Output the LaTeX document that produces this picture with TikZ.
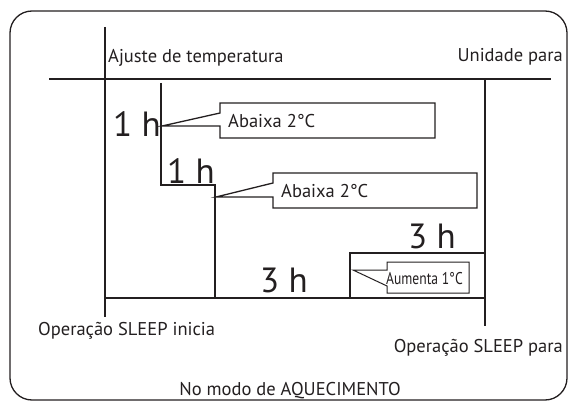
\documentclass[tikz,border=0pt]{standalone}
\usepackage{fontspec}
\setmainfont{PT Sans}
\usetikzlibrary{positioning}
\definecolor{inkdark}{HTML}{231F20}

\begin{document}
\begin{tikzpicture}[x=1pt, y=-1pt,
    axis/.style={draw=inkdark, line width=1.3pt},
    profile/.style={draw=inkdark, line width=2pt},
    callout/.style={draw=inkdark, line width=1.3pt, fill=white, line join=miter},
    label/.style={inner sep=0pt, text=inkdark, font=\fontsize{18.5}{20}\selectfont},
    hour/.style={inner sep=0pt, text=inkdark, font=\fontsize{35}{37}\selectfont}
]
\useasboundingbox (0,0) rectangle (568,401);
% Frame
\draw[axis, rounded corners=22pt] (10,11) rectangle (567,400);

% Axes
\coordinate (ytop) at (105,27);
\coordinate (ybot) at (105,317);
\coordinate (hleft) at (49,79);
\coordinate (hright) at (551,79);
\coordinate (rtop) at (485,79);
\coordinate (rbot) at (485,326);
\coordinate (bright) at (485,298);
\draw[axis] (ytop) -- (ybot);
\draw[axis] (hleft) -- (hright);
\draw[axis] (rtop) -- (rbot);
\draw[axis] (105,298) -- (bright);

% Temperature profile
\draw[profile] (161,83) -- (161,185) -- (215,185) -- (215,298) -- (350,298) -- (350,253) -- (485,253);

% Callouts
\draw[callout] (220,103) -- (435,103) -- (435,138) -- (220,138) -- (220,126) -- (162,126) -- (220,113) -- cycle;
\draw[callout] (273,173) -- (477,173) -- (477,208) -- (273,208) -- (273,197) -- (216,197) -- (273,183) -- cycle;
\draw[callout, line width=1pt] (387,262) -- (469,262) -- (469,293) -- (387,293) -- (387,286) -- (353,270) -- (387,270) -- cycle;

% Labels
\node[label, anchor=base west] (ajuste) at (108,63) {Ajuste de temperatura};
\node[label, anchor=base east] (unidade) at (563,62) {Unidade para};
\node[hour, anchor=base west] (h1a) at (113,137) {1 h};
\node[hour, anchor=base west] (h1b) at (167,183) {1 h};
\node[hour, anchor=base west] (h3a) at (260,292) {3 h};
\node[hour, anchor=base west] (h3b) at (408,248) {3 h};
\node[label, anchor=west] (down1) at (228,121) {Abaixa 2°C};
\node[label, anchor=west] (down2) at (281,191) {Abaixa 2°C};
\node[label, anchor=west, xscale=0.8, font=\fontsize{17}{19}\selectfont] (up1) at (386,279) {Aumenta 1°C};
\node[label, anchor=base west] (start) at (38,335) {Operação SLEEP inicia};
\node[label, anchor=base east] (stop) at (563,352) {Operação SLEEP para};
\node[label, anchor=base] (mode) at (290,395) {No modo de AQUECIMENTO};
\end{tikzpicture}
\end{document}
